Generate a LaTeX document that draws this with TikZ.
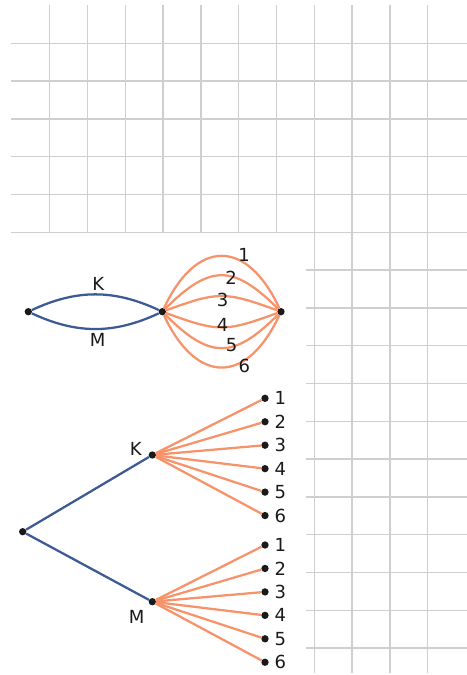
\documentclass[tikz,border=0pt]{standalone}
\usepackage{fontspec}
\setmainfont{DejaVu Sans}
\usetikzlibrary{positioning}
\definecolor{gridgray}{RGB}{207, 207, 207}
\definecolor{navy1}{RGB}{61, 90, 148}
\definecolor{orange1}{RGB}{247, 147, 106}
\definecolor{dotblack}{RGB}{26, 26, 26}

\begin{document}
\begin{tikzpicture}[
  x=0.75pt, y=-0.75pt,
  gridline/.style={draw=gridgray, line width=1pt},
  dot/.style={circle, fill=dotblack, inner sep=0pt, minimum size=5.5pt},
  lab/.style={inner sep=0pt, font=\fontsize{13.5}{15}\selectfont, text=dotblack},
  blueline/.style={draw=navy1, line width=1.7pt},
  orangeline/.style={draw=orange1, line width=1.7pt}
]
  \useasboundingbox (0,0) rectangle (467,675);
  % squared paper
  \foreach \j in {0,...,5}
    \draw[gridline] (11.3, 43.3+37.8*\j) -- (466.5, 43.3+37.8*\j);
  \foreach \j in {1,...,11}
    \draw[gridline] (306, 232.3+37.8*\j) -- (466.5, 232.3+37.8*\j);
  \foreach \k in {0,...,6}
    \draw[gridline] (49.7+37.8*\k, 5) -- (49.7+37.8*\k, 232.3);
  \foreach \k in {7,...,10}
    \draw[gridline] (49.7+37.8*\k, 5) -- (49.7+37.8*\k, 673);

  % multigraph
  \node[dot] (s) at (28.3, 311.7) {};
  \node[dot] (m) at (162.3, 311.7) {};
  \node[dot] (e) at (281, 311.7) {};
  \draw[blueline] (s) to[bend left=25] (m);
  \draw[blueline] (s) to[bend right=25] (m);
  \node[lab] (bk) at (98.3, 284.3) {K};
  \node[lab] (bm) at (97.7, 340) {M};
  \foreach \a/\l in {65/1.71, 45/1.44, 20/1.29} {
    \draw[orangeline] (m) to[bend left=\a, looseness=\l] (e);
    \draw[orangeline] (m) to[bend right=\a, looseness=\l] (e);
  }
  \foreach \i/\px/\py in {1/244/254.5, 2/231.2/277.5, 3/222.7/299.5, 4/222.7/324.5, 5/231.5/345.5, 6/244.3/365.5}
    \node[lab] (n\i) at (\px, \py) {\i};

  % tree
  \node[dot] (r) at (22.7, 531.7) {};
  \node[dot] (k) at (152.3, 455) {};
  \node[dot] (mm) at (152.3, 601.7) {};
  \node[lab] (tk) at (135.7, 449.3) {K};
  \node[lab] (tm) at (136.7, 617.3) {M};
  \draw[blueline] (r) -- (k);
  \draw[blueline] (r) -- (mm);
  \foreach \i in {1,...,6} {
    \node[dot] (k\i) at (265, 398.3+23.45*\i-23.45) {};
    \node[lab, right=7pt of k\i.center] (kl\i) {\i};
    \draw[orangeline] (k) -- (k\i);
    \node[dot] (m\i) at (265, 545+23.45*\i-23.45) {};
    \node[lab, right=7pt of m\i.center] (ml\i) {\i};
    \draw[orangeline] (mm) -- (m\i);
  }
\end{tikzpicture}
\end{document}
